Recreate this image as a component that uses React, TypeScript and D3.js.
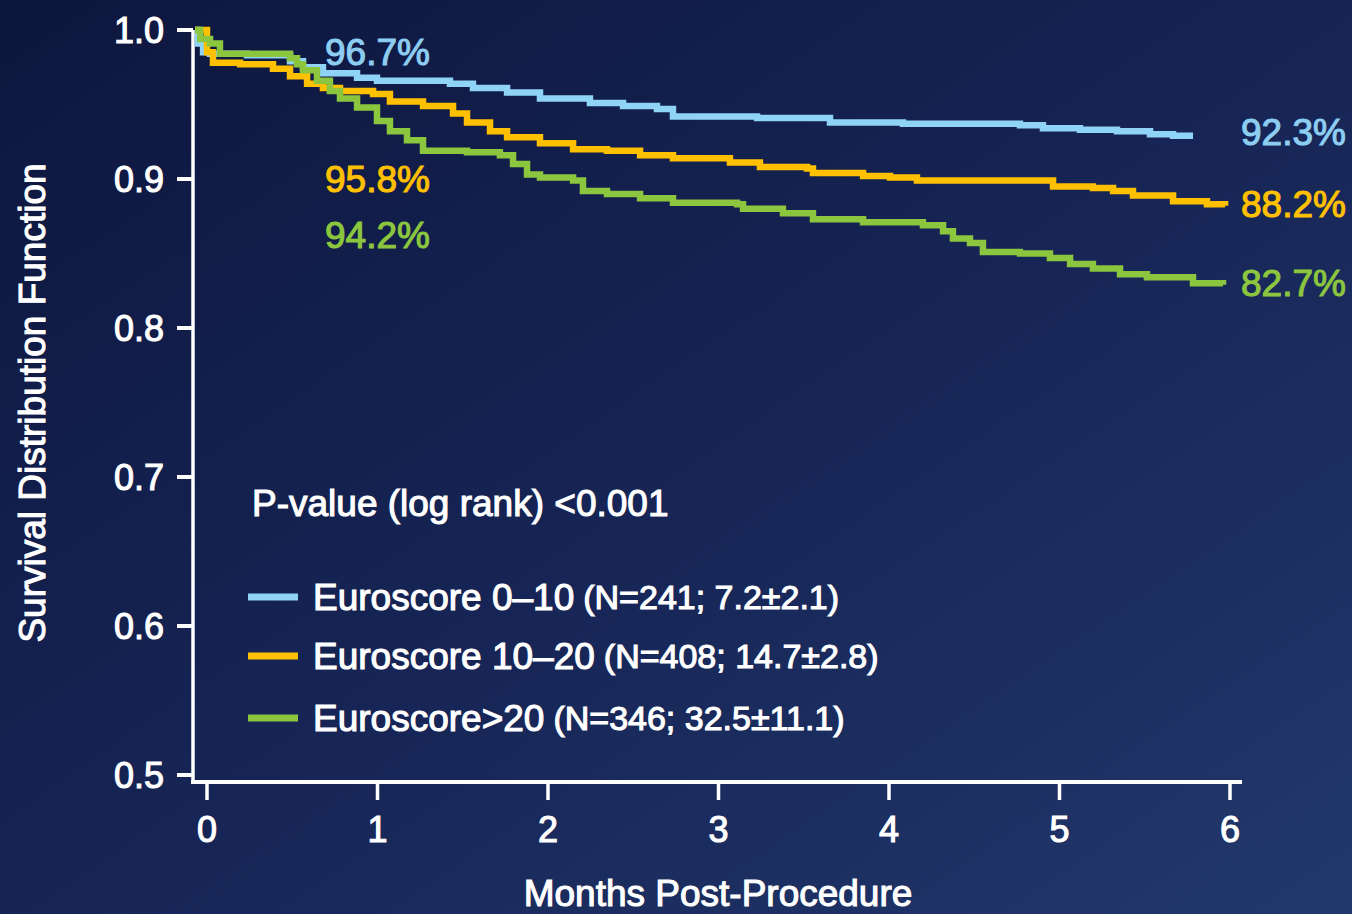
import React from "react";
import * as d3 from "d3";

// ---- data (months post-procedure, survival probability) ----
const seriesNames = ["Euroscore 0–10", "Euroscore 10–20", "Euroscore>20"];
const seriesNotes = ["(N=241; 7.2±2.1)", "(N=408; 14.7±2.8)", "(N=346; 32.5±11.1)"];
const seriesColors = ["#8fd3f7", "#ffc000", "#8cc63f"];

const blueCurve: [number, number][] = [
  [-0.07, 1.0], [-0.053, 0.991], [-0.023, 0.985], [0.018, 0.984], [0.235, 0.983],
  [0.487, 0.979], [0.563, 0.975], [0.68, 0.971], [0.88, 0.968], [0.997, 0.966],
  [1.425, 0.964], [1.56, 0.961], [1.76, 0.958], [1.953, 0.954], [2.246, 0.951],
  [2.44, 0.949], [2.639, 0.947], [2.733, 0.942], [3.226, 0.941], [3.654, 0.938],
  [4.082, 0.937], [4.768, 0.936], [4.903, 0.934], [5.12, 0.933], [5.337, 0.932],
  [5.531, 0.93], [5.666, 0.929], [5.783, 0.929],
];

const orangeCurve: [number, number][] = [
  [-0.07, 1.0], [0.0, 0.985], [0.035, 0.978], [0.194, 0.977], [0.387, 0.974],
  [0.487, 0.969], [0.587, 0.964], [0.68, 0.961], [0.78, 0.959], [0.974, 0.957],
  [1.073, 0.952], [1.267, 0.949], [1.443, 0.944], [1.525, 0.938], [1.66, 0.932],
  [1.76, 0.928], [1.953, 0.924], [2.147, 0.92], [2.346, 0.919], [2.54, 0.916],
  [2.733, 0.914], [3.067, 0.911], [3.243, 0.908], [3.519, 0.907], [3.554, 0.904],
  [3.848, 0.902], [4.006, 0.901], [4.164, 0.899], [4.962, 0.895], [5.196, 0.894],
  [5.314, 0.892], [5.431, 0.889], [5.666, 0.885], [5.865, 0.883], [5.971, 0.882],
];

const greenCurve: [number, number][] = [
  [-0.07, 1.0], [-0.04, 0.994], [0.018, 0.991], [0.076, 0.984], [0.487, 0.981],
  [0.528, 0.977], [0.563, 0.973], [0.645, 0.966], [0.721, 0.959], [0.78, 0.954],
  [0.88, 0.948], [0.997, 0.939], [1.073, 0.932], [1.173, 0.926], [1.267, 0.919],
  [1.525, 0.918], [1.718, 0.916], [1.795, 0.91], [1.877, 0.903], [1.953, 0.901],
  [2.147, 0.899], [2.205, 0.892], [2.346, 0.89], [2.54, 0.887], [2.733, 0.884],
  [3.109, 0.883], [3.144, 0.88], [3.378, 0.877], [3.554, 0.873], [3.848, 0.871],
  [4.199, 0.869], [4.317, 0.865], [4.375, 0.86], [4.475, 0.857], [4.551, 0.851],
  [4.768, 0.85], [4.944, 0.847], [5.062, 0.843], [5.196, 0.84], [5.355, 0.836],
  [5.513, 0.834], [5.783, 0.83], [5.959, 0.829],
];

const curves = [blueCurve, orangeCurve, greenCurve];

const xTicks = [0, 1, 2, 3, 4, 5, 6];
const yTicks = [0.5, 0.6, 0.7, 0.8, 0.9, 1.0];
const yTickLabels = ["0.5", "0.6", "0.7", "0.8", "0.9", "1.0"];

// labels at 1 month and at end of follow-up
const oneMonthLabels = ["96.7%", "95.8%", "94.2%"];
const oneMonthLabelY = [0.985, 0.9, 0.862];
const endLabels = ["92.3%", "88.2%", "82.7%"];
const endLabelY = [0.931, 0.883, 0.83];
const labelColors = ["#8dcdf1", "#ffc000", "#8cc63f"];

const pValueText = "P-value (log rank) <0.001";
const xTitle = "Months Post-Procedure";
const yTitle = "Survival Distribution Function";

const W = 1352;
const H = 914;
const FONT = "'Liberation Sans', Arial, Helvetica, sans-serif";

export default function App() {
  const x = d3.scaleLinear().domain([0, 6]).range([207, 1230]);
  const y = d3.scaleLinear().domain([0.5, 1.0]).range([775, 30]);

  const line = d3
    .line<[number, number]>()
    .x((d) => x(d[0]))
    .y((d) => y(d[1]))
    .curve(d3.curveStepAfter);

  const axisX0 = 193;
  const axisY0 = 782;

  const txt = {
    fontFamily: FONT,
    stroke: "currentColor",
    strokeWidth: 1.1,
  } as React.CSSProperties;

  return (
    <svg
      width={W}
      height={H}
      style={{ position: "absolute", left: 0, top: 0, display: "block" }}
    >
      <defs>
        <linearGradient id="bg" x1="0" y1="0" x2="1" y2="1">
          <stop offset="0%" stopColor="#0d163d" />
          <stop offset="55%" stopColor="#172657" />
          <stop offset="100%" stopColor="#22386c" />
        </linearGradient>
      </defs>
      <rect x={0} y={0} width={W} height={H} fill="url(#bg)" />

      {/* axes */}
      <line x1={axisX0} y1={y(1.0)} x2={axisX0} y2={axisY0 + 2} stroke="#fff" strokeWidth={3.5} />
      <line x1={axisX0 - 2} y1={axisY0} x2={1242} y2={axisY0} stroke="#fff" strokeWidth={4} />

      {yTicks.map((t, i) => (
        <g key={"yt" + i}>
          <line x1={177} x2={axisX0} y1={y(t)} y2={y(t)} stroke="#fff" strokeWidth={4} />
          <text
            x={164}
            y={y(t)}
            textAnchor="end"
            dominantBaseline="central"
            fill="#fff"
            color="#fff"
            fontSize={36}
            style={txt}
          >
            {yTickLabels[i]}
          </text>
        </g>
      ))}

      {xTicks.map((t) => (
        <g key={"xt" + t}>
          <line x1={x(t)} x2={x(t)} y1={axisY0} y2={800} stroke="#fff" strokeWidth={3.5} />
          <text
            x={x(t)}
            y={829}
            textAnchor="middle"
            dominantBaseline="central"
            fill="#fff"
            color="#fff"
            fontSize={36}
            style={txt}
          >
            {t}
          </text>
        </g>
      ))}

      {/* axis titles */}
      <text
        x={718}
        y={906}
        textAnchor="middle"
        fill="#fff"
        color="#fff"
        fontSize={37}
        style={txt}
      >
        {xTitle}
      </text>
      <text
        transform={`translate(45, 403) rotate(-90)`}
        textAnchor="middle"
        fill="#fff"
        color="#fff"
        fontSize={37}
        style={txt}
      >
        {yTitle}
      </text>

      {/* curves */}
      {curves.map((c, i) => (
        <path
          key={"c" + i}
          d={line(c) || ""}
          fill="none"
          stroke={seriesColors[i]}
          strokeWidth={6.5}
          strokeLinejoin="miter"
        />
      ))}

      {/* labels */}
      {oneMonthLabels.map((l, i) => (
        <text
          key={"ml" + i}
          x={x(1)}
          y={y(oneMonthLabelY[i])}
          textAnchor="middle"
          dominantBaseline="central"
          fill={labelColors[i]}
          color={labelColors[i]}
          fontSize={37}
          style={txt}
        >
          {l}
        </text>
      ))}
      {endLabels.map((l, i) => (
        <text
          key={"el" + i}
          x={1241}
          y={y(endLabelY[i])}
          textAnchor="start"
          dominantBaseline="central"
          fill={labelColors[i]}
          color={labelColors[i]}
          fontSize={37}
          style={txt}
        >
          {l}
        </text>
      ))}

      {/* p-value */}
      <text x={252} y={516} fill="#fff" color="#fff" fontSize={37} style={txt}>
        {pValueText}
      </text>

      {/* legend */}
      {seriesNames.map((n, i) => {
        const cy = [597, 656, 718][i];
        return (
          <g key={"lg" + i}>
            <line x1={248} x2={298} y1={cy} y2={cy} stroke={seriesColors[i]} strokeWidth={7} />
            <text
              x={313}
              y={cy}
              dominantBaseline="central"
              fill="#fff"
              color="#fff"
              fontSize={37}
              style={txt}
            >
              {n}
              <tspan fontSize={34} dx={9}>
                {seriesNotes[i]}
              </tspan>
            </text>
          </g>
        );
      })}
    </svg>
  );
}
